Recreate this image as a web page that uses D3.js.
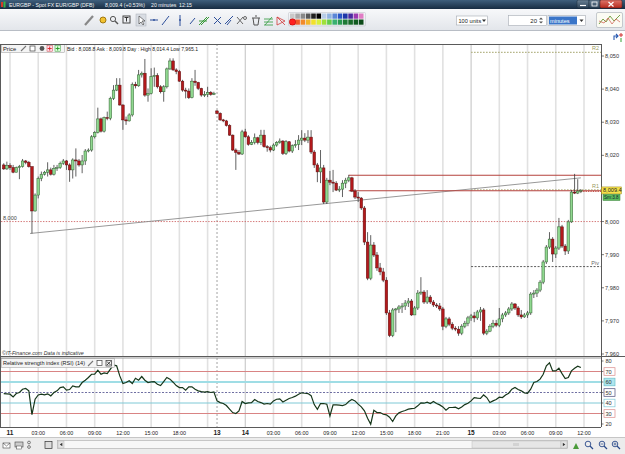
<!DOCTYPE html>
<html>
<head>
<meta charset="utf-8">
<script src="https://cdnjs.cloudflare.com/ajax/libs/d3/7.8.5/d3.min.js"></script>
<style>
body { margin: 0; background: #fff; overflow: hidden; }
svg text { font-family: "Liberation Sans", Arial, sans-serif; }
</style>
</head>
<body>
<div id="chart"></div>
<script>
// 20 minute candles, slot 0 = 11th 00:00, weekend squeezed out (slot 66 = 13th 21:00)
var firstSlot = -2;
var firstOpen = 8017.1;
var sessionOpens = { 66: 8033.4 };

var closes = [
  8015.9, 8016.9, 8016.3, 8014.9, 8016.3, 8016.6, 8018.3, 8017.9, 8016.6, 8003.2,
  8008.0, 8013.0, 8014.3, 8014.9, 8015.6, 8014.3, 8016.1, 8016.3, 8017.6, 8018.3,
  8017.1, 8015.6, 8018.6, 8018.3, 8017.1, 8018.3, 8021.3, 8021.6, 8025.6, 8026.9,
  8031.0, 8027.3, 8031.4, 8031.2, 8037.2, 8039.7, 8041.2, 8035.2, 8030.7, 8030.4,
  8032.2, 8041.4, 8041.0, 8044.3, 8044.8, 8038.2, 8038.7, 8043.8, 8044.1, 8040.7,
  8039.2, 8040.7, 8046.1, 8048.5, 8045.8, 8045.3, 8042.4, 8039.7, 8039.4, 8037.4,
  8042.4, 8042.0, 8040.2, 8038.2, 8038.4, 8039.0, 8038.4, 8038.7, 8032.7, 8030.7,
  8030.4, 8029.0, 8026.1, 8021.6, 8020.9, 8020.4, 8027.1, 8025.6, 8023.3, 8023.9,
  8025.3, 8023.9, 8026.1, 8022.6, 8022.3, 8021.6, 8023.1, 8023.9, 8024.3, 8020.6,
  8024.1, 8021.3, 8022.9, 8023.3, 8024.6, 8025.2, 8024.6, 8025.5, 8021.0, 8017.1,
  8015.0, 8016.2, 8005.9, 8012.5, 8011.9, 8011.6, 8009.5, 8009.8, 8011.6, 8012.5,
  8013.2, 8009.2, 8007.4, 8007.1, 8004.1, 7993.8, 7982.9, 7992.9, 7989.9, 7986.0,
  7984.8, 7982.3, 7972.4, 7965.6, 7973.3, 7973.6, 7974.2, 7974.5, 7975.4, 7976.0,
  7971.8, 7973.9, 7978.4, 7978.7, 7975.7, 7977.2, 7975.7, 7974.8, 7974.5, 7973.6,
  7968.4, 7970.6, 7969.0, 7967.8, 7967.5, 7966.3, 7968.4, 7969.3, 7970.9, 7971.5,
  7970.9, 7972.7, 7973.3, 7966.3, 7966.9, 7968.4, 7969.3, 7968.7, 7970.6, 7971.8,
  7972.4, 7973.6, 7975.1, 7973.9, 7971.8, 7971.2, 7971.8, 7972.4, 7978.1, 7978.4,
  7979.3, 7981.7, 7987.8, 7992.3, 7994.7, 7990.2, 7992.0, 7998.4, 7992.6, 7991.1,
  7999.9, 8008.9, 8008.6, 8009.2, 8009.4
];
var highs = [
  8017.6, 8018.1, 8017.6, 8017.1, 8016.6, 8017.1, 8018.9, 8018.6, 8018.3, 8016.6,
  8008.5, 8013.6, 8015.1, 8015.3, 8017.9, 8016.3, 8017.1, 8017.1, 8018.1, 8018.9,
  8018.6, 8017.6, 8019.1, 8022.1, 8018.9, 8020.1, 8021.9, 8022.1, 8026.1, 8027.3,
  8034.4, 8031.4, 8031.7, 8033.2, 8037.7, 8041.2, 8043.3, 8043.3, 8035.4, 8031.7,
  8032.7, 8042.0, 8042.2, 8045.8, 8045.3, 8049.1, 8040.2, 8046.3, 8046.5, 8044.8,
  8041.2, 8041.2, 8046.5, 8049.3, 8049.3, 8046.3, 8045.8, 8042.8, 8040.4, 8040.2,
  8043.3, 8045.8, 8042.2, 8040.4, 8039.4, 8040.7, 8039.4, 8039.2, 8033.7, 8033.0,
  8031.0, 8030.7, 8029.4, 8026.3, 8022.1, 8021.6, 8027.7, 8028.0, 8026.1, 8024.6,
  8026.6, 8025.6, 8027.7, 8027.7, 8023.1, 8022.9, 8023.6, 8024.3, 8025.1, 8024.6,
  8024.6, 8024.3, 8023.3, 8024.6, 8026.1, 8027.6, 8026.7, 8027.6, 8027.6, 8021.6,
  8017.7, 8021.6, 8017.1, 8013.2, 8015.3, 8015.6, 8012.2, 8010.7, 8012.5, 8013.2,
  8014.1, 8013.5, 8009.8, 8008.9, 8007.4, 8004.7, 7996.8, 7995.9, 7993.8, 7990.8,
  7987.5, 7986.0, 7983.2, 7973.3, 7973.9, 7973.9, 7974.8, 7975.4, 7976.3, 7976.9,
  7976.6, 7974.5, 7979.3, 7983.2, 7979.3, 7979.3, 7977.8, 7976.3, 7975.4, 7975.4,
  7974.2, 7971.2, 7971.2, 7969.6, 7968.4, 7968.4, 7969.0, 7970.0, 7971.5, 7972.1,
  7972.7, 7973.3, 7974.2, 7973.9, 7967.5, 7969.0, 7970.3, 7970.3, 7973.9, 7972.4,
  7973.0, 7974.2, 7975.7, 7975.4, 7974.5, 7973.3, 7972.4, 7973.0, 7978.7, 7979.3,
  7979.9, 7982.3, 7988.4, 7992.9, 7996.8, 7995.3, 7992.6, 8001.1, 7999.0, 7993.2,
  8000.5, 8009.5, 8014.4, 8012.8, 8009.8
];
var lows = [
  8015.6, 8015.6, 8015.6, 8014.6, 8014.9, 8012.8, 8016.3, 8017.3, 8016.3, 7996.4,
  8003.0, 8007.0, 8012.2, 8013.9, 8013.6, 8013.9, 8013.9, 8015.3, 8015.9, 8017.1,
  8015.6, 8012.0, 8013.0, 8013.6, 8016.6, 8014.6, 8017.1, 8020.9, 8021.1, 8025.1,
  8026.6, 8026.9, 8026.9, 8030.6, 8030.6, 8036.7, 8039.4, 8035.0, 8027.7, 8029.2,
  8030.2, 8031.7, 8040.2, 8040.7, 8043.5, 8037.7, 8036.2, 8038.4, 8040.7, 8040.2,
  8038.7, 8036.2, 8040.2, 8045.8, 8045.5, 8044.5, 8042.2, 8039.2, 8037.2, 8037.0,
  8037.2, 8041.0, 8039.7, 8037.7, 8037.6, 8037.6, 8038.0, 8038.2, 8032.4, 8030.4,
  8030.0, 8028.7, 8025.9, 8021.3, 8015.6, 8020.1, 8020.1, 8025.3, 8022.9, 8023.1,
  8023.3, 8023.3, 8023.1, 8022.3, 8021.1, 8020.9, 8021.3, 8022.6, 8023.5, 8020.1,
  8020.1, 8020.9, 8020.7, 8022.3, 8021.6, 8023.1, 8024.0, 8023.7, 8020.4, 8016.2,
  8011.9, 8011.6, 8005.3, 8005.3, 8011.0, 8008.9, 8009.2, 8008.9, 8007.4, 8010.1,
  8011.9, 8008.9, 8006.8, 8005.9, 8003.5, 7992.9, 7982.3, 7982.3, 7989.3, 7985.1,
  7983.8, 7981.7, 7971.8, 7965.1, 7965.1, 7966.6, 7972.4, 7972.4, 7973.3, 7974.2,
  7971.5, 7971.8, 7973.3, 7977.8, 7975.1, 7975.1, 7975.1, 7974.2, 7973.9, 7973.0,
  7967.2, 7967.8, 7968.4, 7967.2, 7966.9, 7965.5, 7965.7, 7967.8, 7968.4, 7970.0,
  7969.6, 7970.3, 7970.0, 7965.7, 7965.7, 7966.6, 7967.8, 7968.1, 7968.1, 7969.6,
  7971.2, 7971.8, 7973.0, 7973.3, 7971.2, 7970.6, 7970.9, 7970.9, 7971.8, 7976.9,
  7977.2, 7978.7, 7981.1, 7987.2, 7991.7, 7987.8, 7989.0, 7991.4, 7992.0, 7989.9,
  7990.2, 7999.6, 8008.3, 8008.3, 8008.6
];
var rsiValues = [
  49, 48.7, 48.4, 45.8, 49, 50, 53.1, 53.8, 51.6, 29,
  43.6, 47.7, 48.4, 47.7, 48.7, 46.8, 50, 51.6, 54.7, 55.4,
  52.2, 52.8, 56.3, 55.4, 55.4, 59.5, 61.7, 64.3, 67.4, 67.4,
  71.2, 67.4, 68.7, 68, 72.2, 76.3, 75.4, 65.8, 58.5, 59.5,
  61.1, 58.5, 63.6, 61.7, 65.2, 61.7, 59.5, 60.1, 60.4, 57.9,
  56.6, 60.4, 64.3, 62.7, 59.8, 56.6, 54.7, 54.7, 52.2, 55.4,
  55.4, 53.1, 51.6, 50.9, 50.3, 50.9, 50, 50.6, 42, 40.4,
  39.5, 37.6, 34.1, 30.9, 30, 32.5, 41.4, 39.5, 40.1, 40.4,
  43.3, 41.4, 40.4, 38.9, 39.5, 38.9, 42, 43.6, 44, 41,
  42.7, 44.3, 45.2, 46.5, 48.4, 49.7, 49.3, 49, 47, 38.5,
  34, 39.5, 39.5, 38.9, 27.7, 38.2, 38.2, 37.9, 37.6, 38.5,
  41.4, 43.3, 42, 38.9, 36.3, 32.5, 25.5, 19.8, 33.1, 30.9,
  30.9, 29.3, 28.7, 26.5, 22.4, 27.7, 30.6, 31.9, 32.8, 34.1,
  34.7, 35, 37.3, 40.1, 39.8, 40.8, 39.5, 41.4, 39.5, 38.2,
  36.3, 33.1, 35.7, 35.7, 36, 34.4, 36.3, 38.5, 39.8, 42,
  45.2, 44.6, 44.3, 47.7, 45.2, 40.4, 42, 43.3, 45.5, 45.2,
  47.7, 49.3, 53.1, 54.7, 52.8, 51.6, 49.7, 49.3, 53.1, 59.5,
  60.4, 62.7, 67.4, 75.4, 78.2, 70.6, 70.6, 73.1, 68, 63.3,
  64.3, 70.6, 73.1, 75, 73.8
];

// time axis
var tickSlots = [0, 9, 18, 27, 36, 45, 54, 66, 75, 84, 93, 102, 111, 120, 129, 138, 147, 156, 165, 174, 183];
var tickLabels = ['11', '03:00', '06:00', '09:00', '12:00', '15:00', '18:00', '13', '14', '03:00', '06:00', '09:00',
                  '12:00', '15:00', '18:00', '21:00', '15', '03:00', '06:00', '09:00', '12:00'];
var gridSlots = [0, 9, 18, 27, 36, 45, 54, 63, 66, 75, 84, 93, 102, 111, 120, 129, 138, 147, 156, 165, 174, 183];
var priceTicks = [7960, 7970, 7980, 7990, 8000, 8010, 8020, 8030, 8040, 8050];
var rsiTicks = [20, 30, 40, 50, 60, 70, 80];

// drawn lines and levels
var trendPoints = [[6.4, 7996.4], [182, 8013.2]];
var hLineStart = 108;
var hLinePrices = [8014.0, 8009.3];
var refPrice = 8000;
var pivotStart = 147;
var pivotNames = ['R2', 'R1', 'Piv'];
var pivotPrices = [8051.1, 8009.6, 7986.4];
var lastPrice = 8009.4;

var W = 625, H = 454;
var plotL = 1, plotR = 601;
var mainTop = 44, mainBot = 356;
var rsiTop = 358, rsiBot = 427;

var svg = d3.select('#chart').append('svg')
    .attr('width', W)
    .attr('height', H)
    .style('display', 'block')

var x = d3.scaleLinear().domain([0, 183]).range([10, 584]);
var y = d3.scaleLinear().domain([7960, 8050]).range([354, 56]);
var yR = d3.scaleLinear().domain([20, 80]).range([424, 361]);

var candles = closes.map(function(c, i) {
    var slot = firstSlot + i;
    var o = i === 0 ? firstOpen : (sessionOpens[slot] !== undefined ? sessionOpens[slot] : closes[i - 1]);
    return { slot: slot, o: o, h: highs[i], l: lows[i], c: c };
});

var defs = svg.append('defs');
function vgrad(id, a, b) {
    var g = defs.append('linearGradient').attr('id', id).attr('x1', 0).attr('x2', 0).attr('y1', 0).attr('y2', 1);
    g.append('stop').attr('offset', '0%').attr('stop-color', a);
    g.append('stop').attr('offset', '100%').attr('stop-color', b);
}
vgrad('titleG', '#3f5f7d', '#172c42');
vgrad('toolG', '#f7f8fa', '#e2e5ea');
vgrad('closeG', '#e0756a', '#b5291d');
vgrad('btnG', '#6b8296', '#2d4358');
defs.append('clipPath').attr('id', 'mainClip').append('rect')
    .attr('x', plotL).attr('y', mainTop).attr('width', plotR - plotL).attr('height', mainBot - mainTop);
defs.append('clipPath').attr('id', 'rsiClip').append('rect')
    .attr('x', plotL).attr('y', rsiTop).attr('width', plotR - plotL).attr('height', rsiBot - rsiTop);

// ---------- window title bar ----------
svg.append('rect').attr('x', 0).attr('y', 0).attr('width', W).attr('height', 9).attr('fill', 'url(#titleG)');
svg.append('rect').attr('x', 1).attr('y', 2).attr('width', 2).attr('height', 5).attr('fill', '#d23a2a');
svg.append('rect').attr('x', 3.5).attr('y', 1.5).attr('width', 2).attr('height', 6).attr('fill', '#39b54a');
var titleParts = [[9, 'EURGBP - Spot FX EUR/GBP (DFB)'], [105, '8,009.4 (+0.53%)'], [151, '20 minutes'], [179, '12:15']];
svg.selectAll('.ttl').data(titleParts).join('text')
    .attr('x', d => d[0]).attr('y', 6.8)
    .attr('font-size', '5.2px').attr('fill', '#f4f6f8')
    .text(d => d[1]);
svg.append('rect').attr('x', 577).attr('y', 0).attr('width', 12).attr('height', 8).attr('rx', 1.5).attr('fill', 'url(#btnG)').attr('stroke', '#1c2c3a').attr('stroke-width', 0.5);
svg.append('rect').attr('x', 589).attr('y', 0).attr('width', 11).attr('height', 8).attr('rx', 1.5).attr('fill', 'url(#btnG)').attr('stroke', '#1c2c3a').attr('stroke-width', 0.5);
svg.append('rect').attr('x', 600).attr('y', 0).attr('width', 22).attr('height', 8).attr('rx', 1.5).attr('fill', 'url(#closeG)').attr('stroke', '#5a1a14').attr('stroke-width', 0.5);
svg.append('line').attr('x1', 580).attr('x2', 586).attr('y1', 5.5).attr('y2', 5.5).attr('stroke', '#fff').attr('stroke-width', 1.2);
svg.append('rect').attr('x', 592).attr('y', 2).attr('width', 5).attr('height', 4).attr('fill', 'none').attr('stroke', '#fff').attr('stroke-width', 0.8);
svg.append('path').attr('d', 'M608.5,2 L613.5,6.5 M613.5,2 L608.5,6.5').attr('stroke', '#fff').attr('stroke-width', 1.2);

// ---------- toolbar ----------
svg.append('rect').attr('x', 0).attr('y', 9).attr('width', W).attr('height', 22).attr('fill', 'url(#toolG)');
svg.append('line').attr('x1', 0).attr('x2', W).attr('y1', 30.5).attr('y2', 30.5).attr('stroke', '#b8bdc5');
svg.append('rect').attr('x', 136).attr('y', 14).attr('width', 10).attr('height', 12).attr('fill', '#d9dde3').attr('stroke', '#aab0b8').attr('stroke-width', 0.5);

var tools = svg.append('g').attr('stroke-width', 1).attr('fill', 'none');
tools.append('line').attr('x1', 85).attr('y1', 25).attr('x2', 93).attr('y2', 16).attr('stroke', '#888').attr('stroke-width', 2.2);
tools.append('circle').attr('cx', 103).attr('cy', 20).attr('r', 3).attr('fill', '#f2c230').attr('stroke', '#a07810');
tools.append('circle').attr('cx', 113).attr('cy', 19).attr('r', 2.6).attr('stroke', '#555');
tools.append('line').attr('x1', 115).attr('y1', 21).attr('x2', 118).attr('y2', 24).attr('stroke', '#555').attr('stroke-width', 1.4);
tools.append('rect').attr('x', 123).attr('y', 16).attr('width', 7).attr('height', 7).attr('stroke', '#444');
tools.append('path').attr('d', 'M124.5,17.5 L128.5,17.5 M126.5,17.5 L126.5,21.5').attr('stroke', '#333');
tools.append('path').attr('d', 'M139,16 L139,24 L141,22 L143,25 L144,24 L142,21 L145,21 Z').attr('fill', '#fff').attr('stroke', '#333').attr('stroke-width', 0.6);
tools.append('line').attr('x1', 150).attr('x2', 158).attr('y1', 20).attr('y2', 20).attr('stroke', '#2d4f9a');
tools.append('circle').attr('cx', 154).attr('cy', 20).attr('r', 0.9).attr('fill', '#2d4f9a');
tools.append('line').attr('x1', 162).attr('y1', 25).attr('x2', 169).attr('y2', 16).attr('stroke', '#2d4f9a');
tools.append('line').attr('x1', 180).attr('x2', 180).attr('y1', 15).attr('y2', 26).attr('stroke', '#2d4f9a');
tools.append('circle').attr('cx', 180).attr('cy', 20).attr('r', 0.9).attr('fill', '#2d4f9a');
tools.append('line').attr('x1', 190).attr('y1', 24).attr('x2', 195).attr('y2', 18).attr('stroke', '#2d4f9a');
tools.append('path').attr('d', 'M199,25 L207,17 M201,25 L209,17 M199,21 L207,21').attr('stroke', '#3a9a3a');
tools.append('path').attr('d', 'M214,24 L221,17 M214,17 L221,24').attr('stroke', '#2d4f9a');
tools.append('path').attr('d', 'M225,24 L233,16 M227,25 L231,20').attr('stroke', '#2d4f9a');
tools.append('path').attr('d', 'M237,24 L243,17 M237,17 L243,24').attr('stroke', '#666');
tools.append('circle').attr('cx', 245).attr('cy', 18).attr('r', 1.5).attr('stroke', '#666');
tools.append('path').attr('d', 'M252,18 L260,18 M253,18 L254,25 L258,25 L259,18 M255,16 L257,16').attr('stroke', '#555');
tools.append('path').attr('d', 'M264,25 L273,25 M264,22 L273,22 M264,19 L273,19 M265,25 L272,17').attr('stroke', '#2f9a3a').attr('stroke-width', 0.8);
tools.append('path').attr('d', 'M277,17 L277,25 L285,21 Z M277,17 L285,25').attr('stroke', '#d13a3a').attr('stroke-width', 0.8);

// colour palette
var palTop = ['#c8c8c8', '#a8a8a8', '#888888', '#585858', '#202020', '#000000', '#b8cde8', '#8fb2e0', '#5b86d6', '#2a55c6', '#1e36a8', '#4a2aa0', '#9a3ab0', '#e07cc4'];
var palBot = ['#f03030', '#f25a2a', '#f28a2a', '#f2b62a', '#f2e02a', '#d8f03a', '#9ee03a', '#62cc4a', '#38b070', '#2a9a50', '#1e7a36', '#186a28', '#105a20', '#0c4a18'];
svg.selectAll('.palT').data(palTop).join('rect')
    .attr('x', (c, i) => 290 + i * 5.3).attr('y', 13.5).attr('width', 4.6).attr('height', 5.2).attr('fill', c => c);
svg.selectAll('.palB').data(palBot).join('rect')
    .attr('x', (c, i) => 290 + i * 5.3).attr('y', 19.5).attr('width', 4.6).attr('height', 5.2).attr('fill', c => c);
svg.append('circle').attr('cx', 292.5).attr('cy', 22).attr('r', 3.2).attr('fill', '#ff2020').attr('stroke', '#a00').attr('stroke-width', 0.5);
svg.append('rect').attr('x', 288.5).attr('y', 12.5).attr('width', 77).attr('height', 13.5).attr('fill', 'none').attr('stroke', '#c2c6cc').attr('stroke-width', 0.6).attr('rx', 1);

// selectors
svg.append('rect').attr('x', 456.5).attr('y', 16).attr('width', 31).attr('height', 9).attr('fill', '#fff').attr('stroke', '#a5abb3').attr('stroke-width', 0.6);
svg.append('text').attr('x', 458.5).attr('y', 23).attr('font-size', '5.6px').attr('fill', '#222').text('100 units');
svg.append('path').attr('d', 'M482,19.5 L486,19.5 L484,22 Z').attr('fill', '#333');
svg.append('rect').attr('x', 508.5).attr('y', 15.5).attr('width', 38).attr('height', 10).attr('fill', '#fff').attr('stroke', '#a5abb3').attr('stroke-width', 0.6);
svg.append('text').attr('x', 537).attr('y', 23).attr('text-anchor', 'end').attr('font-size', '6px').attr('fill', '#222').text('20');
svg.append('path').attr('d', 'M539,19.5 L543,19.5 L541,17.5 Z M539,21.5 L543,21.5 L541,23.5 Z').attr('fill', '#555');
svg.append('rect').attr('x', 548).attr('y', 15.5).attr('width', 37.5).attr('height', 10).attr('fill', '#fff').attr('stroke', '#a5abb3').attr('stroke-width', 0.6);
svg.append('rect').attr('x', 549).attr('y', 16.5).attr('width', 28).attr('height', 8).attr('fill', '#3a75c8');
svg.append('text').attr('x', 550).attr('y', 23).attr('font-size', '5.6px').attr('fill', '#fff').text('minutes');
svg.append('path').attr('d', 'M579.5,19.5 L583.5,19.5 L581.5,22 Z').attr('fill', '#333');
svg.append('rect').attr('x', 596.5).attr('y', 12.5).attr('width', 26).attr('height', 15).attr('fill', '#fbfbf3').attr('stroke', '#a5abb3').attr('stroke-width', 0.6).attr('rx', 1.5);
svg.append('path').attr('d', 'M599,24 L603,19 L606,22 L610,16 L614,21 L620,15').attr('fill', 'none').attr('stroke', '#6a9a3a').attr('stroke-width', 0.9);
svg.append('path').attr('d', 'M599,21 L604,23 L608,18 L612,24 L616,19 L620,22').attr('fill', 'none').attr('stroke', '#d05a4a').attr('stroke-width', 0.7);

// strip under toolbar
svg.append('rect').attr('x', 0).attr('y', 31).attr('width', W).attr('height', 13).attr('fill', '#fff');
svg.append('path').attr('d', 'M614,40 L614,36 L618,36 M616,34 L618,36 L616,38').attr('fill', 'none').attr('stroke', '#2a5ab0').attr('stroke-width', 1.1);
svg.append('path').attr('d', 'M621,33 L621,37 M619,35 L623,35').attr('stroke', '#d03030').attr('stroke-width', 1);
svg.append('path').attr('d', 'M621,38 L621,42').attr('stroke', '#30a030').attr('stroke-width', 1);

// ---------- panels ----------
svg.append('rect').attr('x', plotL).attr('y', mainTop).attr('width', plotR - plotL).attr('height', mainBot - mainTop).attr('fill', '#fff');
svg.append('rect').attr('x', plotL).attr('y', rsiTop).attr('width', plotR - plotL).attr('height', rsiBot - rsiTop).attr('fill', '#fff');

function drawGrid(g, top, bot) {
    g.selectAll('.vg').data(gridSlots).join('line')
        .attr('x1', d => x(d)).attr('x2', d => x(d))
        .attr('y1', top).attr('y2', bot)
        .attr('stroke', d => d === 66 ? '#8a8a8a' : (d === 75 || d === 147 ? '#b0b0b0' : '#e1e1e1'))
        .attr('stroke-width', d => (d === 66 || d === 75 || d === 147) ? 0.8 : 1.6)
        .attr('stroke-dasharray', d => d === 66 ? '2,2' : null);
}

var gMain = svg.append('g').attr('clip-path', 'url(#mainClip)');
drawGrid(gMain, mainTop, mainBot);

// pivot levels
pivotPrices.forEach(function(p, i) {
    gMain.append('line')
        .attr('x1', x(pivotStart)).attr('x2', plotR)
        .attr('y1', y(p)).attr('y2', y(p))
        .attr('stroke', pivotNames[i] === 'Piv' ? '#333' : '#b2b282')
        .attr('stroke-width', pivotNames[i] === 'Piv' ? 0.8 : 1.2)
        .attr('stroke-dasharray', pivotNames[i] === 'Piv' ? '2,1.5' : '1.5,1.5');
    gMain.append('text')
        .attr('x', plotR - 2).attr('y', y(p) - 2)
        .attr('text-anchor', 'end').attr('font-size', '5.5px')
        .attr('fill', pivotNames[i] === 'Piv' ? '#666' : '#9a9a60')
        .text(pivotNames[i]);
});

// reference line at 8,000
gMain.append('line')
    .attr('x1', plotL).attr('x2', plotR).attr('y1', y(refPrice)).attr('y2', y(refPrice))
    .attr('stroke', '#d06a6a').attr('stroke-width', 0.9).attr('stroke-dasharray', '1.4,1.4');
gMain.append('text').attr('x', 3).attr('y', y(refPrice) - 1.5)
    .attr('font-size', '5.5px').attr('fill', '#444').text('8,000');

// trend line
gMain.append('line')
    .attr('x1', x(trendPoints[0][0])).attr('y1', y(trendPoints[0][1]))
    .attr('x2', x(trendPoints[1][0])).attr('y2', y(trendPoints[1][1]))
    .attr('stroke', '#8c8c8c').attr('stroke-width', 0.9);

// horizontal lines
gMain.selectAll('.hl').data(hLinePrices).join('line')
    .attr('x1', x(hLineStart)).attr('x2', plotR)
    .attr('y1', d => y(d)).attr('y2', d => y(d))
    .attr('stroke', '#b5423c').attr('stroke-width', 1.1);
gMain.append('line')
    .attr('x1', x(182)).attr('x2', plotR).attr('y1', y(lastPrice) + 1).attr('y2', y(lastPrice) + 1)
    .attr('stroke', '#c03a30').attr('stroke-width', 0.9).attr('stroke-dasharray', '1.2,1.2');

// candles
var cg = gMain.append('g');
cg.selectAll('.wick').data(candles).join('line')
    .attr('x1', d => x(d.slot)).attr('x2', d => x(d.slot))
    .attr('y1', d => y(d.h)).attr('y2', d => y(d.l))
    .attr('stroke', '#3a3a3a').attr('stroke-width', 0.8);
cg.selectAll('.body').data(candles).join('rect')
    .attr('x', d => x(d.slot) - 1.3)
    .attr('y', d => y(Math.max(d.o, d.c)))
    .attr('width', 2.6)
    .attr('height', d => Math.max(0.8, Math.abs(y(d.o) - y(d.c))))
    .attr('fill', d => d.c > d.o ? '#8fd88f' : (d.c < d.o ? '#b3191b' : '#999'))
    .attr('stroke', d => d.c > d.o ? '#2f5f2f' : (d.c < d.o ? '#5e0d0e' : '#555'))
    .attr('stroke-width', 0.5);

// header box
svg.append('rect').attr('x', 1.5).attr('y', 44.5).attr('width', 63).attr('height', 8).attr('fill', '#f4f4f4').attr('stroke', '#9a9a9a').attr('stroke-width', 0.5);
svg.append('text').attr('x', 3).attr('y', 51).attr('font-size', '5.8px').attr('fill', '#222').text('Price');
svg.append('line').attr('x1', 21).attr('y1', 51).attr('x2', 26).attr('y2', 46).attr('stroke', '#777').attr('stroke-width', 1.1);
svg.append('rect').attr('x', 30).attr('y', 46).attr('width', 5).attr('height', 5).attr('fill', '#fff').attr('stroke', '#444').attr('stroke-width', 0.7);
svg.append('circle').attr('cx', 42).attr('cy', 48.5).attr('r', 2.4).attr('fill', '#555');
svg.append('rect').attr('x', 47).attr('y', 45.7).attr('width', 5.5).attr('height', 5.5).attr('fill', '#fde').attr('stroke', '#c44').attr('stroke-width', 0.5);
svg.append('path').attr('d', 'M49.7,46.5 L49.7,50.5 M47.7,48.5 L51.7,48.5').attr('stroke', '#d22').attr('stroke-width', 0.9);
svg.append('rect').attr('x', 55).attr('y', 45.7).attr('width', 5.5).attr('height', 5.5).attr('fill', '#dfd').attr('stroke', '#393').attr('stroke-width', 0.5);
svg.append('path').attr('d', 'M57.7,46.5 L57.7,50.5 M55.7,48.5 L59.7,48.5').attr('stroke', '#292').attr('stroke-width', 0.9);
svg.append('text').attr('x', 67).attr('y', 50.5).attr('font-size', '5.4px').attr('fill', '#222')
    .attr('textLength', 131).attr('lengthAdjust', 'spacingAndGlyphs')
    .text('Bid : 8,008.8  Ask : 8,009.8   Day : High 8,014.4  Low 7,965.1');
svg.append('text').attr('x', 2).attr('y', 355).attr('font-size', '5.3px').attr('font-style', 'italic').attr('fill', '#333')
    .text('\u00a9IT-Finance.com  Data is indicative');

// ---------- RSI panel ----------
var gR = svg.append('g').attr('clip-path', 'url(#rsiClip)');
drawGrid(gR, rsiTop, rsiBot);
var rsiLevels = [
    { v: 70, c: '#d98484', w: 1, dash: null },
    { v: 60, c: '#9fdde5', w: 2.2, dash: null },
    { v: 50, c: '#4a4a8a', w: 0.8, dash: '2,1.5' },
    { v: 40, c: '#7ec9d6', w: 1, dash: null },
    { v: 30, c: '#d98484', w: 1, dash: null }
];
gR.selectAll('.lvl').data(rsiLevels).join('line')
    .attr('x1', plotL).attr('x2', plotR)
    .attr('y1', d => yR(d.v)).attr('y2', d => yR(d.v))
    .attr('stroke', d => d.c).attr('stroke-width', d => d.w)
    .attr('stroke-dasharray', d => d.dash);
var rsiLine = d3.line().x((d, i) => x(firstSlot + i)).y(d => yR(d)).curve(d3.curveLinear);
gR.append('path').attr('d', rsiLine(rsiValues))
    .attr('fill', 'none').attr('stroke', '#16361a').attr('stroke-width', 1.2);

svg.append('rect').attr('x', 1.5).attr('y', 358.5).attr('width', 113).attr('height', 9).attr('fill', '#f4f4f4').attr('stroke', '#9a9a9a').attr('stroke-width', 0.5);
svg.append('text').attr('x', 3).attr('y', 365.3).attr('font-size', '5.6px').attr('fill', '#222')
    .attr('textLength', 82).attr('lengthAdjust', 'spacingAndGlyphs')
    .text('Relative strength index (RSI) (14)');
svg.append('line').attr('x1', 88).attr('y1', 366).attr('x2', 93).attr('y2', 361).attr('stroke', '#777').attr('stroke-width', 1.1);
svg.append('rect').attr('x', 97).attr('y', 360.5).attr('width', 5).attr('height', 5).attr('fill', '#fff').attr('stroke', '#444').attr('stroke-width', 0.7);
svg.append('rect').attr('x', 106).attr('y', 360.5).attr('width', 5.5).attr('height', 5.5).attr('fill', '#eee').attr('stroke', '#333').attr('stroke-width', 0.7);
svg.append('path').attr('d', 'M107,361.5 L110.5,365 M110.5,361.5 L107,365').attr('stroke', '#222').attr('stroke-width', 0.8);

// ---------- frames ----------
var frame = svg.append('g').attr('fill', 'none').attr('stroke', '#5a5a5a');
frame.append('line').attr('x1', 0).attr('x2', plotR).attr('y1', mainTop + 0.5).attr('y2', mainTop + 0.5);
frame.append('line').attr('x1', 0).attr('x2', W).attr('y1', mainBot + 0.5).attr('y2', mainBot + 0.5);
frame.append('line').attr('x1', 0).attr('x2', plotR).attr('y1', rsiTop).attr('y2', rsiTop).attr('stroke', '#999');
frame.append('line').attr('x1', 0).attr('x2', plotR).attr('y1', rsiBot + 0.5).attr('y2', rsiBot + 0.5);
frame.append('line').attr('x1', plotL - 0.5).attr('x2', plotL - 0.5).attr('y1', mainTop).attr('y2', rsiBot);
frame.append('line').attr('x1', plotR + 0.5).attr('x2', plotR + 0.5).attr('y1', mainTop).attr('y2', rsiBot);

// price axis (label under the last-price tag is hidden, as in the platform)
var shownTicks = priceTicks.filter(d => Math.abs(y(d) - y(lastPrice)) > 6);
var pa = svg.append('g');
pa.selectAll('.pt').data(priceTicks).join('line')
    .attr('x1', plotR).attr('x2', plotR + 3).attr('y1', d => y(d)).attr('y2', d => y(d))
    .attr('stroke', '#444').attr('stroke-width', 0.7);
pa.selectAll('.pl').data(shownTicks).join('text')
    .attr('x', plotR + 4).attr('y', d => y(d) + 2)
    .attr('font-size', '5.6px').attr('fill', '#333')
    .text(d => d3.format(',')(d));

// last price tag
svg.append('rect').attr('x', plotR + 0.5).attr('y', y(lastPrice) - 3.5).attr('width', 20).attr('height', 7)
    .attr('fill', '#f6e24a').attr('stroke', '#9a8420').attr('stroke-width', 0.5);
svg.append('text').attr('x', plotR + 2).attr('y', y(lastPrice) + 2).attr('font-size', '5.6px').attr('fill', '#222').text('8,009.4');
svg.append('rect').attr('x', plotR + 2).attr('y', y(lastPrice) + 4).attr('width', 17).attr('height', 6)
    .attr('fill', '#5cbc5c').attr('stroke', '#2c7a2c').attr('stroke-width', 0.5);
svg.append('text').attr('x', plotR + 3).attr('y', y(lastPrice) + 8.8).attr('font-size', '4.6px').attr('fill', '#123').text('Sm:3.8');

// rsi axis
var rsiBox = { 70: ['none', '#d98a8a'], 60: ['#aee6ee', '#6cc0cc'], 50: ['none', '#4a4a7a'], 40: ['none', '#7ec9d6'], 30: ['none', '#d98a8a'] };
var ra = svg.append('g');
rsiTicks.forEach(function(v) {
    ra.append('line').attr('x1', plotR).attr('x2', plotR + 2.5).attr('y1', yR(v)).attr('y2', yR(v)).attr('stroke', '#444').attr('stroke-width', 0.7);
    if (rsiBox[v]) {
        ra.append('rect').attr('x', plotR + 3).attr('y', yR(v) - 3.8).attr('width', 11).attr('height', 7.6)
            .attr('fill', rsiBox[v][0]).attr('stroke', rsiBox[v][1]).attr('stroke-width', 0.7);
    }
    ra.append('text').attr('x', plotR + 4.5).attr('y', yR(v) + 2).attr('font-size', '5.6px').attr('fill', '#333').text(v);
});

// time axis labels
svg.selectAll('.tl').data(tickSlots).join('text')
    .attr('x', d => x(d)).attr('y', 434.5)
    .attr('text-anchor', 'middle')
    .attr('font-size', (d, i) => tickLabels[i].length <= 2 ? '6.5px' : '5.4px')
    .attr('font-weight', (d, i) => tickLabels[i].length <= 2 ? 'bold' : 'normal')
    .attr('fill', '#222')
    .text((d, i) => tickLabels[i]);

// ---------- bottom bar ----------
svg.append('rect').attr('x', 0).attr('y', 437).attr('width', W).attr('height', 17).attr('fill', '#ececec');
svg.append('line').attr('x1', 0).attr('x2', W).attr('y1', 437.5).attr('y2', 437.5).attr('stroke', '#c6c6c6');
svg.append('rect').attr('x', 3).attr('y', 443).attr('width', 7).attr('height', 5).attr('fill', '#fff').attr('stroke', '#444').attr('stroke-width', 0.6);
svg.append('path').attr('d', 'M3,443 L6.5,446 L10,443').attr('fill', 'none').attr('stroke', '#444').attr('stroke-width', 0.6);
svg.append('rect').attr('x', 15).attr('y', 442).attr('width', 8).attr('height', 5).attr('fill', '#ccc').attr('stroke', '#444').attr('stroke-width', 0.6);
svg.append('rect').attr('x', 16.5).attr('y', 446).attr('width', 5).attr('height', 3).attr('fill', '#fff').attr('stroke', '#444').attr('stroke-width', 0.5);
svg.append('circle').attr('cx', 29).attr('cy', 442.5).attr('r', 1.4).attr('fill', 'none').attr('stroke', '#333').attr('stroke-width', 0.6);
svg.append('circle').attr('cx', 29).attr('cy', 447).attr('r', 1.4).attr('fill', 'none').attr('stroke', '#333').attr('stroke-width', 0.6);
svg.append('rect').attr('x', 45).attr('y', 441.5).attr('width', 7).attr('height', 7).attr('fill', '#ddd').attr('stroke', '#333').attr('stroke-width', 0.7);
svg.append('rect').attr('x', 57.5).attr('y', 440.5).attr('width', 510).attr('height', 8).attr('fill', '#f7f7f7').attr('stroke', '#a8a8a8').attr('stroke-width', 0.6);
svg.append('rect').attr('x', 58).attr('y', 441).attr('width', 6).attr('height', 7).attr('fill', '#e4e4e4').attr('stroke', '#aaa').attr('stroke-width', 0.4);
svg.append('path').attr('d', 'M62.3,442.8 L59.8,444.5 L62.3,446.2 Z').attr('fill', '#333');
svg.append('rect').attr('x', 472).attr('y', 441).attr('width', 89).attr('height', 7).attr('fill', '#e6e6e6').attr('stroke', '#b4b4b4').attr('stroke-width', 0.4);
svg.append('path').attr('d', 'M514,443 L514,446 M516,443 L516,446 M518,443 L518,446').attr('stroke', '#999').attr('stroke-width', 0.5);
svg.append('rect').attr('x', 561).attr('y', 441).attr('width', 6).attr('height', 7).attr('fill', '#e4e4e4').attr('stroke', '#aaa').attr('stroke-width', 0.4);
svg.append('path').attr('d', 'M562.8,442.8 L565.3,444.5 L562.8,446.2 Z').attr('fill', '#333');
svg.append('path').attr('d', 'M573,449 L576,443 L579,449 Z').attr('fill', '#4a9a3a');
svg.append('circle').attr('cx', 588).attr('cy', 444).attr('r', 2.8).attr('fill', 'none').attr('stroke', '#2a4a8a').attr('stroke-width', 0.9);
svg.append('line').attr('x1', 590).attr('y1', 446).attr('x2', 593).attr('y2', 449).attr('stroke', '#2a4a8a').attr('stroke-width', 1.2);
svg.append('circle').attr('cx', 602).attr('cy', 444).attr('r', 2.8).attr('fill', 'none').attr('stroke', '#2a4a8a').attr('stroke-width', 0.9);
svg.append('line').attr('x1', 604).attr('y1', 446).attr('x2', 607).attr('y2', 449).attr('stroke', '#2a4a8a').attr('stroke-width', 1.2);
svg.append('circle').attr('cx', 615).attr('cy', 444).attr('r', 2.8).attr('fill', 'none').attr('stroke', '#2a4a8a').attr('stroke-width', 0.9);
svg.append('line').attr('x1', 617).attr('y1', 446).attr('x2', 620).attr('y2', 449).attr('stroke', '#2a4a8a').attr('stroke-width', 1.2);
svg.append('path').attr('d', 'M613.5,444 L616.5,444 M615,442.5 L615,445.5').attr('stroke', '#2a4a8a').attr('stroke-width', 0.7);
svg.append('path').attr('d', 'M600.5,444 L603.5,444').attr('stroke', '#2a4a8a').attr('stroke-width', 0.7);
</script>
</body>
</html>
